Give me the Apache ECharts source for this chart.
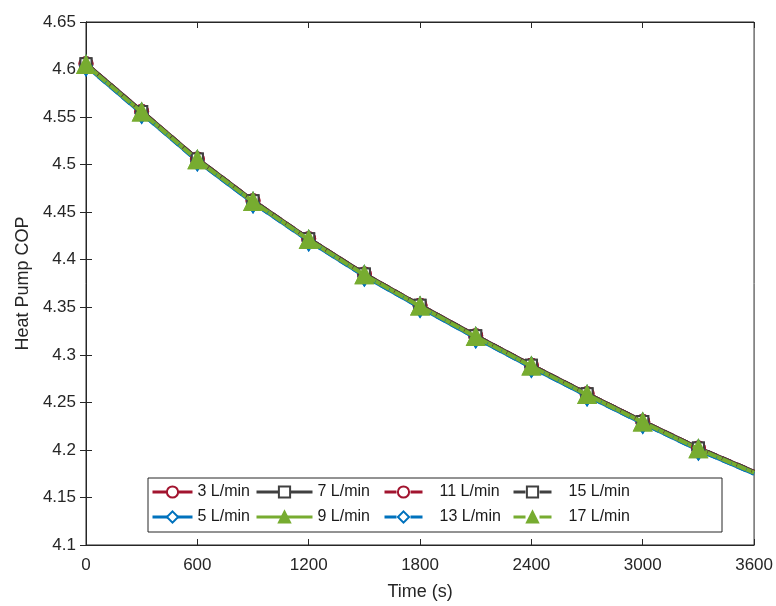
<!DOCTYPE html>
<html><head><meta charset="utf-8">
<script src="https://cdn.jsdelivr.net/npm/echarts@6/dist/echarts.min.js"></script>
<style>html,body{margin:0;padding:0;background:#fff}#c{width:776px;height:606px}</style>
</head><body><div id="c"></div>
<script>
const times = [0,300,600,900,1200,1500,1800,2100,2400,2700,3000,3300,3600];
const xTicks = [0,600,1200,1800,2400,3000,3600];
const yTicks = [4.1,4.15,4.2,4.25,4.3,4.35,4.4,4.45,4.5,4.55,4.6,4.65];
const names = ['3 L/min','5 L/min','7 L/min','9 L/min','11 L/min','13 L/min','15 L/min','17 L/min'];
const cop3  = [4.606,4.556,4.506,4.462,4.422,4.385,4.352,4.320,4.289,4.259,4.230,4.202,4.177];
const cop5  = [4.604,4.554,4.504,4.460,4.420,4.383,4.350,4.318,4.287,4.257,4.228,4.200,4.175];
const cop7  = [4.606,4.556,4.506,4.462,4.422,4.385,4.352,4.320,4.289,4.259,4.230,4.202,4.177];
const cop9  = [4.605,4.555,4.505,4.461,4.421,4.384,4.351,4.319,4.288,4.258,4.229,4.201,4.176];
const cop11 = [4.606,4.556,4.506,4.462,4.422,4.385,4.352,4.320,4.289,4.259,4.230,4.202,4.177];
const cop13 = [4.604,4.554,4.504,4.460,4.420,4.383,4.350,4.318,4.287,4.257,4.228,4.200,4.175];
const cop15 = [4.606,4.556,4.506,4.462,4.422,4.385,4.352,4.320,4.289,4.259,4.230,4.202,4.177];
const cop17 = [4.605,4.555,4.505,4.461,4.421,4.384,4.351,4.319,4.288,4.258,4.229,4.201,4.176];
const values = [cop3,cop5,cop7,cop9,cop11,cop13,cop15,cop17];
const colors = ['#A2142F','#0072BD','#404040','#77AC30','#A2142F','#0072BD','#404040','#77AC30'];
const symbols = ['emptyCircle','emptyDiamond','emptyRect','triangle','emptyCircle','emptyDiamond','emptyRect','triangle'];
const symSizes = [13,[12,19],11,16,13,[12,19],11,16];
const dashed = [false,false,false,false,true,true,true,true];
const lastMarkerTime = 3300;

const chart = echarts.init(document.getElementById('c'));
const font = 'Arial, "Liberation Sans", sans-serif';
const series = names.map((n,i)=>({
  name:n, type:'line', xAxisIndex:0, yAxisIndex:0, z:2+i,
  data: times.map((t,k)=> t>lastMarkerTime ? {value:[t, values[i][k]], symbol:'none'} : [t, values[i][k]]),
  symbol: symbols[i], symbolSize: symSizes[i], showSymbol:true,
  lineStyle:{color:colors[i], width:4, type: dashed[i]?[10,6]:'solid'},
  itemStyle:{color:colors[i], borderColor:colors[i], borderWidth:2.5},
  emphasis:{disabled:true}, animation:false
}));
const cols = [['3 L/min','5 L/min'],['7 L/min','9 L/min'],['11 L/min','13 L/min'],['15 L/min','17 L/min']];
const colLeft = [151, 255, 383, 512];
const colItemW = [40, 56, 38, 38];
const colTextPad = [0, 0, 12, 12];
const legends = cols.map((c,j)=>({
  data:c.map(n=>{
    const i = names.indexOf(n);
    return {name:n, lineStyle:{type: dashed[i] ? [12,14] : 'solid', width:3}};
  }),
  orient:'vertical', left:colLeft[j], top:484, itemGap:9, z:10,
  itemWidth:colItemW[j], itemHeight:14, selectedMode:false,
  textStyle:{fontFamily:font, fontSize:16, color:'#1a1a1a', padding:[0,0,0,colTextPad[j]]},
  padding:0
}));
chart.setOption({
  animation:false,
  grid:{left:86, right:18, top:22, bottom:61, show:true, borderColor:'#262626', borderWidth:1, backgroundColor:'#fff'},
  xAxis:[{type:'value', min:0, max:3600, interval:600,
    name:'Time (s)', nameLocation:'middle', nameGap:38,
    nameTextStyle:{fontFamily:font, fontSize:18, color:'#262626'},
    axisLine:{show:true, lineStyle:{color:'#262626'}},
    axisTick:{inside:true, length:6, lineStyle:{color:'#262626'}},
    axisLabel:{fontFamily:font, fontSize:17, color:'#262626', margin:12, formatter:v=>String(v)},
    splitLine:{show:false}},
    {type:'value', position:'top', min:0, max:3600, interval:600,
    axisLine:{show:true, lineStyle:{color:'#262626'}},
    axisTick:{inside:true, length:6, lineStyle:{color:'#262626'}},
    axisLabel:{show:false}, splitLine:{show:false}}],
  yAxis:[{type:'value', min:4.1, max:4.65, interval:0.05,
    name:'Heat Pump COP', nameLocation:'middle', nameGap:54, nameRotate:90,
    nameTextStyle:{fontFamily:font, fontSize:18, color:'#262626'},
    axisLine:{show:true, lineStyle:{color:'#262626'}},
    axisTick:{inside:true, length:6, lineStyle:{color:'#262626'}},
    axisLabel:{fontFamily:font, fontSize:17, color:'#262626', margin:10,
      formatter:v=>String(parseFloat(v.toFixed(2)))},
    splitLine:{show:false}},
    {type:'value', position:'right', min:4.1, max:4.65, interval:0.05,
    axisLine:{show:true, lineStyle:{color:'#262626'}},
    axisTick:{inside:true, length:6, lineStyle:{color:'#262626'}},
    axisLabel:{show:false}, splitLine:{show:false}}],
  legend: legends,
  graphic:[{type:'rect', shape:{x:148, y:478, width:574, height:54},
    style:{fill:'#fff', stroke:'#262626', lineWidth:1}, z:9}],
  series: series
});
</script></body></html>
